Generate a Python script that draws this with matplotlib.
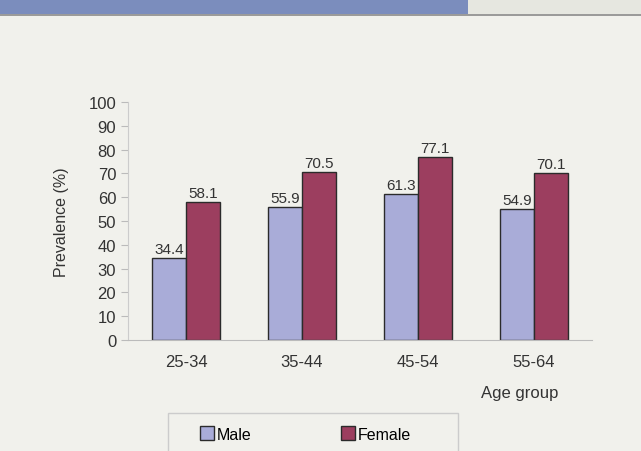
import matplotlib.pyplot as plt
import matplotlib.patches as patches
import numpy as np

plt.rcParams['font.family'] = ['Liberation Sans', 'DejaVu Sans']

# Données
age_groups = ["25-34", "35-44", "45-54", "55-64"]
male = [34.4, 55.9, 61.3, 54.9]
female = [58.1, 70.5, 77.1, 70.1]

bg = "#f1f1ec"
male_color = "#a9acd8"
female_color = "#9c3e5f"
edge = "#2b2b2b"
txt = "#333333"

fig = plt.figure(figsize=(6.41, 4.52), dpi=100)
fig.patch.set_facecolor(bg)

# Bandeau bleu en haut (page scannée)
fig.add_artist(patches.Rectangle((0, 1 - 15 / 452), 468 / 641, 15 / 452,
                                 transform=fig.transFigure, facecolor="#7b8dbd",
                                 edgecolor="none"))
fig.add_artist(patches.Rectangle((468 / 641, 1 - 15 / 452), 1 - 468 / 641, 15 / 452,
                                 transform=fig.transFigure, facecolor="#e6e7e0",
                                 edgecolor="none"))
fig.add_artist(plt.Line2D([0, 1], [1 - 16 / 452, 1 - 16 / 452],
                          transform=fig.transFigure, color="#8a8a8a", lw=1.2))

ax = fig.add_axes([128 / 641, 111 / 452, 464 / 641, 238 / 452])
ax.set_facecolor(bg)

x = np.arange(len(age_groups))
w = 0.29
b1 = ax.bar(x - w / 2, male, w, color=male_color, edgecolor=edge, linewidth=1)
b2 = ax.bar(x + w / 2, female, w, color=female_color, edgecolor=edge, linewidth=1)

for bars, vals in ((b1, male), (b2, female)):
    for r, v in zip(bars, vals):
        ax.text(r.get_x() + r.get_width() / 2, v + 0.8, f"{v:.1f}",
                ha="center", va="bottom", fontsize=11, color=txt)

ax.set_xlim(-0.5, len(age_groups) - 0.5)
ax.set_ylim(0, 100)
ax.set_yticks(range(0, 101, 10))
ax.set_xticks(x)
ax.set_xticklabels(age_groups)
ax.tick_params(axis="both", labelsize=12, colors="#bbbbbb", labelcolor=txt, length=5)
ax.tick_params(axis="x", length=0, pad=10)

for s in ("top", "right"):
    ax.spines[s].set_visible(False)
ax.spines["left"].set_color("#cccccc")
ax.spines["bottom"].set_color("#bbbbbb")

ax.set_ylabel("Prevalence (%)", fontsize=11.5, color=txt, labelpad=14)
fig.text(520 / 641, 1 - 394 / 452, "Age group", ha="center", va="center",
         fontsize=12, color=txt)

# Cadre de la légende
fig.add_artist(patches.Rectangle((168 / 641, -0.01), 290 / 641, 1 - 414 / 452 + 0.01,
                                 transform=fig.transFigure, facecolor="none",
                                 edgecolor="#cccccc", lw=1))
leg = fig.legend([b1, b2], ["Male", "Female"], loc="center left",
                 bbox_to_anchor=(200 / 641, 1 - 435 / 452), ncol=2,
                 frameon=False, fontsize=11.5, columnspacing=5.6, handlelength=0.9,
                 handleheight=0.9, handletextpad=0.15, borderpad=0,
                 borderaxespad=0)

fig.savefig("out.png", dpi=100, facecolor=bg)
